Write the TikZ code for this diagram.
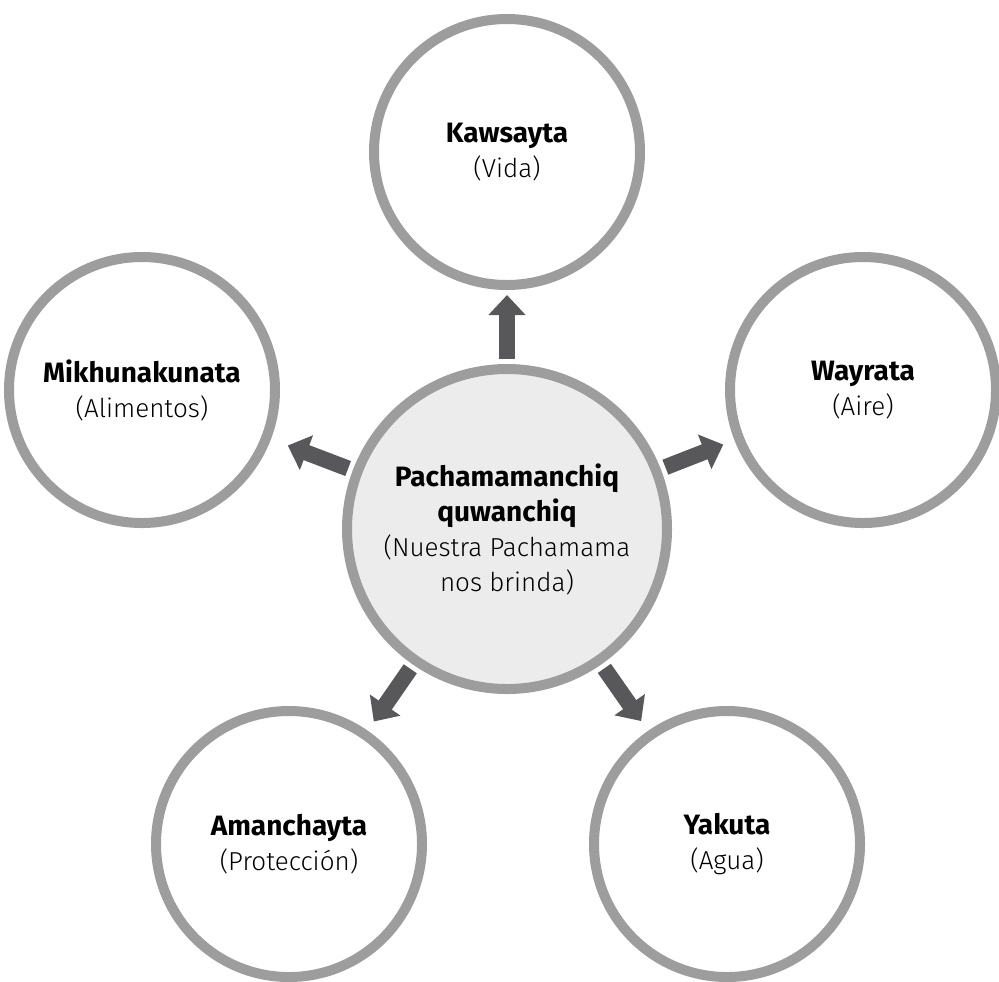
\documentclass[tikz,border=0pt]{standalone}
\usepackage{fontspec}
\setmainfont{Fira Sans Light}[BoldFont={Fira Sans Bold}]
\usetikzlibrary{positioning,arrows.meta,calc}
\definecolor{ringgray}{HTML}{9D9D9D}
\definecolor{corefill}{HTML}{ECECEC}
\definecolor{arrowgray}{HTML}{58585A}
\newcommand\qname[1]{{\fontsize{14}{17.5}\selectfont\bfseries #1}}
\tikzset{
  ring/.style={circle, draw=ringgray, line width=5pt, fill=white, minimum size=133pt, inner sep=0pt, align=center, font=\fontsize{13}{17.5}\selectfont},
  core/.style={ring, fill=corefill, minimum size=160pt},
  givearrow/.style={-{Triangle[width=18pt,length=10pt]}, line width=8pt, draw=arrowgray, shorten <=2.5pt, shorten >=#1}
}

\begin{document}
\begin{tikzpicture}[x=0.5pt, y=-0.5pt]
  \useasboundingbox (0,0) rectangle (999,981);
  \node[core] (pacha) at (507,529) {\qname{Pachamamanchiq}\\ \qname{quwanchiq}\\ (Nuestra Pachamama\\ nos brinda)};
  \node[ring] (kawsay) at (507,152) {\qname{Kawsayta}\\ (Vida)};
  \node[ring] (mikhuna) at (142,390) {\qname{Mikhunakunata}\\ (Alimentos)};
  \node[ring] (wayra) at (863,390) {\qname{Wayrata}\\ (Aire)};
  \node[ring] (amancha) at (289,844) {\qname{Amanchayta}\\ (Protección)};
  \node[ring] (yaku) at (727,844) {\qname{Yakuta}\\ (Agua)};
  % arrows out of the centre
  \draw[givearrow=2.5pt] (pacha) -- (kawsay);
  \draw[givearrow=9pt] (pacha) -- (mikhuna);
  \draw[givearrow=6pt] (pacha) -- (wayra);
  \draw[givearrow=5.5pt] (pacha) -- (amancha);
  \draw[givearrow=6pt] (pacha) -- (yaku);
\end{tikzpicture}
\end{document}
